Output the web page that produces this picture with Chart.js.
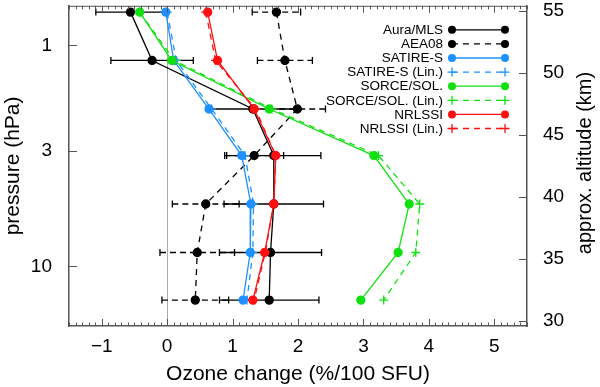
<!DOCTYPE html>
<html>
<head>
<meta charset="utf-8">
<script src="https://cdn.jsdelivr.net/npm/chart.js@4.4.1/dist/chart.umd.min.js"></script>
<style>
  html, body { margin: 0; padding: 0; background: #fff; }
  canvas { display: block; }
</style>
</head>
<body>
<canvas id="chart" width="600" height="387"></canvas>
<script>
// pressure levels (hPa) shared by all profiles
const pressure = [0.707, 1.17, 1.94, 3.15, 5.22, 8.65, 14.2];

// ozone change (%/100 SFU)
const auraMls    = [-0.56, -0.23, 1.31, 1.63, 1.63, 1.58, 1.56];
const auraMlsErr = [0.53, 0.63, 0.65, 0.72, 0.76, 0.78, 0.76];
const aea08      = [1.67, 1.80, 1.99, 1.33, 0.59, 0.46, 0.43];
const aea08Err   = [0.37, 0.42, 0.43, 0.45, 0.51, 0.57, 0.51];
const satire     = [-0.02, 0.10, 0.64, 1.14, 1.28, 1.27, 1.16];
const satireLin  = [0.00, 0.14, 0.68, 1.19, 1.32, 1.31, 1.22];
const sorce      = [-0.42, 0.07, 1.56, 3.16, 3.70, 3.53, 2.96];
const sorceLin   = [-0.42, 0.11, 1.60, 3.23, 3.86, 3.80, 3.31];
const nrlssi     = [0.62, 0.77, 1.33, 1.66, 1.63, 1.49, 1.31];
const nrlssiLin  = [0.59, 0.74, 1.35, 1.66, 1.63, 1.50, 1.33];

const xTicks = [-1, 0, 1, 2, 3, 4, 5];
const pTicks = [1, 3, 10];
const altTicks = [30, 35, 40, 45, 50, 55];

const BLUE = '#1e90ff', GREEN = '#10e010', RED = '#ff1010', AXIS = '#555';
const FONT = 'Liberation Sans';

function profile(vals) {
  return vals.map((v, i) => ({ x: v, y: pressure[i] }));
}

function ds(label, vals, color, dashed, order) {
  const cross = dashed && color !== '#000';
  return {
    label, data: profile(vals), order,
    borderColor: color, backgroundColor: color,
    borderWidth: 1.3, borderDash: dashed ? [6, 5] : [],
    pointStyle: cross ? 'cross' : 'circle',
    pointRadius: cross ? 4.5 : 4,
    pointBorderWidth: 1.3,
    tension: 0, fill: false
  };
}

function drawErr(ctx, x, y, vals, errs, dash) {
  ctx.strokeStyle = '#000';
  ctx.lineWidth = 1.3;
  vals.forEach((v, i) => {
    const py = y.getPixelForValue(pressure[i]);
    const x1 = x.getPixelForValue(v - errs[i]);
    const x2 = x.getPixelForValue(v + errs[i]);
    ctx.setLineDash(dash);
    ctx.beginPath(); ctx.moveTo(x1, py); ctx.lineTo(x2, py); ctx.stroke();
    ctx.setLineDash([]);
    ctx.beginPath();
    ctx.moveTo(x1, py - 3.5); ctx.lineTo(x1, py + 3.5);
    ctx.moveTo(x2, py - 3.5); ctx.lineTo(x2, py + 3.5);
    ctx.stroke();
  });
}

const frame = {
  id: 'frame',
  beforeDatasetsDraw(chart) {
    const { ctx, chartArea: a, scales: { x, y } } = chart;
    ctx.save();
    const x0 = Math.round(x.getPixelForValue(0)) + 0.5;
    ctx.strokeStyle = '#aaa'; ctx.lineWidth = 1;
    ctx.beginPath(); ctx.moveTo(x0, a.top); ctx.lineTo(x0, a.bottom); ctx.stroke();
    drawErr(ctx, x, y, auraMls, auraMlsErr, []);
    drawErr(ctx, x, y, aea08, aea08Err, [6, 4]);
    ctx.restore();
  },
  afterDraw(chart) {
    const { ctx, chartArea: a, scales: { x, y, y2 } } = chart;
    ctx.save();
    ctx.strokeStyle = AXIS; ctx.lineWidth = 1;
    ctx.beginPath();
    // top border
    ctx.moveTo(a.left, a.top + 0.5); ctx.lineTo(a.right, a.top + 0.5);
    // minor + major ticks top and bottom
    for (let i = -15; i <= 55; i++) {
      const px = Math.round(x.getPixelForValue(i / 10)) + 0.5;
      const len = i % 10 === 0 ? 7 : 3.5;
      ctx.moveTo(px, a.bottom); ctx.lineTo(px, a.bottom - len);
      ctx.moveTo(px, a.top); ctx.lineTo(px, a.top + len);
    }
    pTicks.forEach(p => {
      const py = Math.round(y.getPixelForValue(p)) + 0.5;
      ctx.moveTo(a.left, py); ctx.lineTo(a.left + 8, py);
    });
    altTicks.forEach(z => {
      const py = Math.round(y2.getPixelForValue(z)) + 0.5;
      ctx.moveTo(a.right, py); ctx.lineTo(a.right - 8, py);
    });
    ctx.stroke();

    // right axis title, reading upwards
    ctx.fillStyle = '#000';
    ctx.font = '20px "' + FONT + '"';
    ctx.textAlign = 'center'; ctx.textBaseline = 'middle';
    ctx.translate(585, 163);
    ctx.rotate(-Math.PI / 2);
    ctx.fillText('approx. altitude (km)', 0, 0);
    ctx.restore();

    // legend
    ctx.save();
    ctx.font = '13.5px "' + FONT + '"';
    ctx.textAlign = 'right'; ctx.textBaseline = 'middle';
    const sets = chart.data.datasets;
    sets.forEach((d, i) => {
      const ly = a.top + 24 + i * 14.1;
      const lx1 = 452, lx2 = 505;
      ctx.fillStyle = '#000';
      ctx.fillText(d.label, 443, ly + 0.5);
      ctx.strokeStyle = d.borderColor; ctx.lineWidth = 1.3;
      ctx.setLineDash(d.borderDash);
      ctx.beginPath(); ctx.moveTo(lx1, ly); ctx.lineTo(lx2, ly); ctx.stroke();
      ctx.setLineDash([]);
      [lx1, lx2].forEach(mx => {
        ctx.beginPath();
        if (d.pointStyle === 'circle') {
          ctx.fillStyle = d.backgroundColor;
          ctx.arc(mx, ly, 4, 0, Math.PI * 2); ctx.fill();
        } else {
          ctx.moveTo(mx - 4.5, ly); ctx.lineTo(mx + 4.5, ly);
          ctx.moveTo(mx, ly - 4.5); ctx.lineTo(mx, ly + 4.5); ctx.stroke();
        }
      });
    });
    ctx.restore();
  }
};

const minus = v => (v < 0 ? '\u2212' + Math.abs(v) : String(v));
const noPadV = s => { s.paddingTop = 0; s.paddingBottom = 0; };

new Chart(document.getElementById('chart').getContext('2d'), {
  type: 'line',
  data: {
    datasets: [
      ds('Aura/MLS', auraMls, '#000', false, 8),
      ds('AEA08', aea08, '#000', true, 7),
      ds('SATIRE-S', satire, BLUE, false, 5),
      ds('SATIRE-S (Lin.)', satireLin, BLUE, true, 6),
      ds('SORCE/SOL.', sorce, GREEN, false, 3),
      ds('SORCE/SOL. (Lin.)', sorceLin, GREEN, true, 4),
      ds('NRLSSI', nrlssi, RED, false, 1),
      ds('NRLSSI (Lin.)', nrlssiLin, RED, true, 2)
    ]
  },
  options: {
    responsive: false,
    animation: false,
    devicePixelRatio: 1,
    layout: { padding: { top: 3, left: 0, right: 0, bottom: 0 } },
    plugins: { legend: { display: false }, tooltip: { enabled: false } },
    scales: {
      x: {
        type: 'linear', position: 'bottom', min: -1.5, max: 5.5,
        afterBuildTicks: s => { s.ticks = xTicks.map(v => ({ value: v })); },
        afterFit: s => { s.height = 61; s.paddingLeft = 0; s.paddingRight = 0; },
        grid: { display: false },
        border: { color: AXIS, width: 1.5 },
        ticks: { color: '#000', font: { family: FONT, size: 19 }, padding: 1,
                 callback: v => minus(v) },
        title: { display: true, text: 'Ozone change (%/100 SFU)', color: '#000',
                 font: { family: FONT, size: 21 }, padding: { top: 0, bottom: 0 } }
      },
      y: {
        type: 'logarithmic', position: 'left', reverse: true, min: 0.662, max: 18.6,
        afterBuildTicks: s => { s.ticks = pTicks.map(v => ({ value: v })); },
        afterFit: s => { s.width = 69; noPadV(s); },
        grid: { display: false },
        border: { color: AXIS, width: 1.5 },
        ticks: { color: '#000', font: { family: FONT, size: 19 }, padding: 9,
                 callback: v => String(v) },
        title: { display: true, text: 'pressure (hPa)', color: '#000',
                 font: { family: FONT, size: 21 }, padding: { top: 1, bottom: 1 } }
      },
      y2: {
        type: 'linear', position: 'right', min: 29.6, max: 55.4,
        afterBuildTicks: s => { s.ticks = altTicks.map(v => ({ value: v })); },
        afterFit: s => { s.width = 73; noPadV(s); },
        grid: { display: false },
        border: { color: AXIS, width: 1.5 },
        ticks: { color: '#000', font: { family: FONT, size: 19 }, padding: 8 }
      }
    }
  },
  plugins: [frame]
});
</script>
</body>
</html>
